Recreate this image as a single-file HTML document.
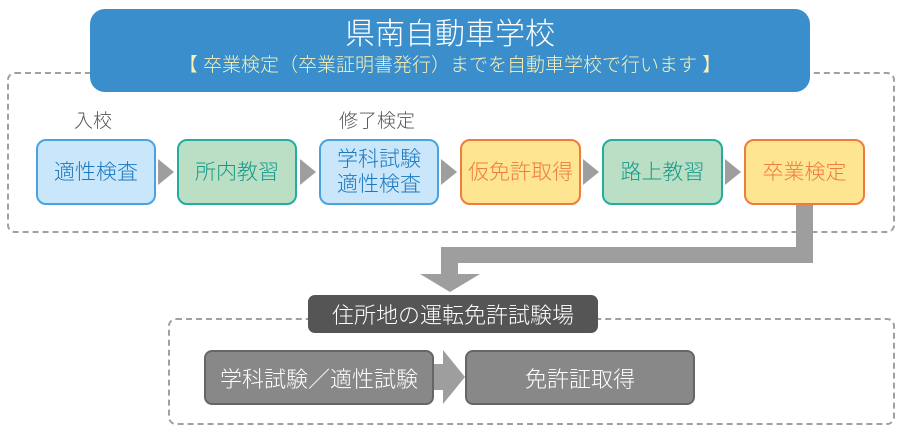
<!DOCTYPE html>
<html><head><meta charset="utf-8"><style>
body{margin:0;width:900px;height:439px;background:#fff;position:relative;overflow:hidden;font-family:"Liberation Sans","Noto Sans CJK JP",sans-serif;font-weight:300}
.a{position:absolute;box-sizing:border-box}
.dash{border:2px dashed #a0a0a0;border-radius:8px}
.box{border:2px solid;border-radius:10px;display:flex;align-items:center;justify-content:center;text-align:center;font-size:21px;line-height:25px;white-space:nowrap}
.b{background:#c9e6fa;border-color:#4aa3df;color:#1a78bd}
.g{background:#bbdfc5;border-color:#22ada0;color:#16998a}
.o{background:#fde592;border-color:#ef7b3d;color:#ef7b3d}
.tri{width:0;height:0;border-top:13px solid transparent;border-bottom:13px solid transparent;border-left:16px solid #9e9e9e}
.lbl{font-size:19px;color:#555;white-space:nowrap}
.gr{background:#888;border:2px solid #666;border-radius:8px;color:#fff;font-size:22px;display:flex;align-items:center;justify-content:center;white-space:nowrap}
</style></head><body>
<div class="a dash" style="left:7px;top:72px;width:888px;height:161px"></div>
<div class="a" style="left:90px;top:9px;width:720px;height:83px;background:#3a8ecb;border-radius:15px;color:#fff;text-align:center;white-space:nowrap">
<div style="font-size:30px;margin-top:8px;line-height:36px">県南自動車学校</div>
<div style="font-size:19px;color:#fbf1b6;line-height:26px;margin-top:0px">【 卒業検定（卒業証明書発行）までを自動車学校で行います 】</div></div>
<div class="a lbl" style="left:74px;top:106px">入校</div>
<div class="a lbl" style="left:339px;top:106px">修了検定</div>
<div class="a box b" style="left:36px;top:139px;width:120px;height:66px">適性検査</div>
<div class="a box g" style="left:177px;top:139px;width:120px;height:66px">所内教習</div>
<div class="a box b" style="left:319px;top:139px;width:120px;height:66px">学科試験<br>適性検査</div>
<div class="a box o" style="left:460px;top:139px;width:121px;height:66px">仮免許取得</div>
<div class="a box g" style="left:602px;top:139px;width:121px;height:66px">路上教習</div>
<div class="a box o" style="left:744px;top:139px;width:121px;height:66px">卒業検定</div>
<div class="a tri" style="left:158px;top:159px"></div>
<div class="a tri" style="left:300px;top:159px"></div>
<div class="a tri" style="left:441px;top:159px"></div>
<div class="a tri" style="left:583px;top:159px"></div>
<div class="a tri" style="left:725px;top:159px"></div>
<div class="a" style="left:796px;top:205px;width:17px;height:58px;background:#9e9e9e"></div>
<div class="a" style="left:441px;top:247px;width:372px;height:16px;background:#9e9e9e"></div>
<div class="a" style="left:441px;top:247px;width:17px;height:28px;background:#9e9e9e"></div>
<div class="a" style="left:420px;top:274px;width:0;height:0;border-left:30px solid transparent;border-right:30px solid transparent;border-top:18px solid #9e9e9e"></div>
<div class="a dash" style="left:168px;top:318px;width:727px;height:107px"></div>
<div class="a" style="left:308px;top:295px;width:290px;height:38px;background:#555;border-radius:7px;color:#fff;font-size:22px;display:flex;align-items:center;justify-content:center;white-space:nowrap">住所地の運転免許試験場</div>
<div class="a gr" style="left:204px;top:350px;width:230px;height:55px">学科試験／適性試験</div>
<div class="a" style="left:434px;top:364px;width:10px;height:26px;background:#9e9e9e"></div>
<div class="a" style="left:443px;top:350px;width:0;height:0;border-top:27px solid transparent;border-bottom:27px solid transparent;border-left:22px solid #9e9e9e"></div>
<div class="a gr" style="left:465px;top:350px;width:230px;height:55px">免許証取得</div>
</body></html>
